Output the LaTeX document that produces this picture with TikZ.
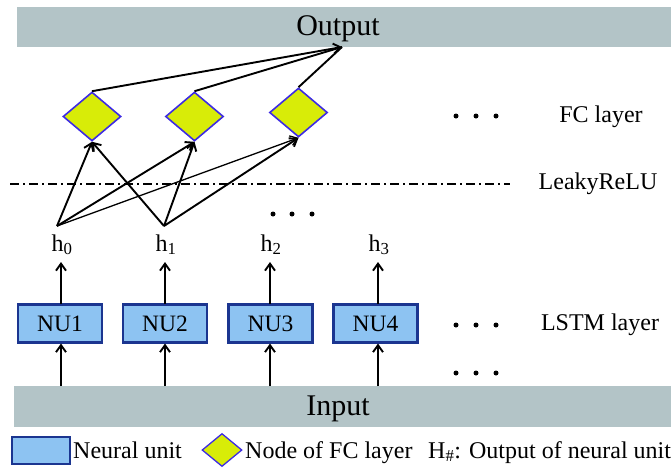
\documentclass[tikz,border=0pt]{standalone}
\usepackage{fontspec}
\setmainfont{Liberation Serif}
\usetikzlibrary{arrows.meta,shapes.geometric}
\definecolor{barc}{HTML}{B3C4C7}
\definecolor{nufill}{HTML}{8DC3F2}
\definecolor{nudraw}{HTML}{1B3590}
\definecolor{dfill}{HTML}{D8EC08}
\definecolor{ddraw}{HTML}{3D2BE3}
\begin{document}
\begin{tikzpicture}[x=1pt,y=-1pt,
  bar/.style={fill=barc, draw=none, inner sep=0, anchor=north west},
  nubox/.style={draw=nudraw, fill=nufill, line width=2.2pt, minimum width=84pt, minimum height=38pt, inner sep=0, font=\fontsize{23.5}{23.5}\selectfont},
  fcnode/.style={shape=diamond, draw=ddraw, fill=dfill, line width=1.6pt, minimum width=58pt, minimum height=49pt, inner sep=0},
  arr/.style={-{Straight Barb[length=7pt,width=10pt]}, line width=1.9pt},
  thinarr/.style={-{Straight Barb[length=7pt,width=10pt]}, line width=1.3pt},
  lbl/.style={font=\fontsize{24}{24}\selectfont, inner sep=0},
  big/.style={font=\fontsize{30}{30}\selectfont, inner sep=0}
]
\useasboundingbox (0,0) rectangle (671,467);
% bars
\node[bar, minimum width=654pt, minimum height=40pt] (outbar) at (17,7) {};
\node[big, anchor=base] (outtxt) at (338,35) {Output};
\node[bar, minimum width=657pt, minimum height=41pt] (inbar) at (14,386) {};
\node[big, anchor=base] (intxt) at (338,415) {Input};
\coordinate (out) at (342,47);
% FC nodes
\node[fcnode] (d1) at (92,116.5) {};
\node[fcnode] (d2) at (194.5,116.5) {};
\node[fcnode] (d3) at (298.5,112.5) {};
% NU boxes
\node[nubox] (n1) at (60,323.5) {NU1};
\node[nubox] (n2) at (165,323.5) {NU2};
\node[nubox] (n3) at (270.5,323.5) {NU3};
\node[nubox] (n4) at (375.5,323.5) {NU4};
% h labels
\node[lbl, anchor=base] (h0) at (62,251) {h\textsubscript{0}};
\node[lbl, anchor=base] (h1) at (166,251) {h\textsubscript{1}};
\node[lbl, anchor=base] (h2) at (271,251) {h\textsubscript{2}};
\node[lbl, anchor=base] (h3) at (379,251) {h\textsubscript{3}};
\coordinate (h0t) at (57,226);
\coordinate (h1t) at (164,226);
% arrows input -> NU -> h
\foreach \x in {61,165,270,378}{
  \draw[arr] (\x,386) -- (\x,343.5);
  \draw[arr] (\x,303.5) -- (\x,262);
}
% h -> FC
\draw[arr] (h0t) -- (d1.south);
\draw[arr] (h0t) -- (d2.south);
\draw[thinarr] (h0t) -- (d3.south);
\draw[arr] (h1t) -- (d1.south);
\draw[arr] (h1t) -- (d2.south);
\draw[arr] (h1t) -- (d3.south);
% FC -> output
\draw[line width=1.9pt] (d2.north) -- (out);
\draw[line width=1.9pt] (d3.north) -- (out);
\draw[arr] (d1.north) -- (out);
% LeakyReLU line
\draw[line width=1.4pt, dash pattern=on 9pt off 4pt on 2pt off 4pt] (10,184) -- (510,184);
% dots
\foreach \y in {116,325,373}{
  \foreach \x in {456,476,496} \fill (\x,\y) circle (2.5pt);
}
\foreach \x in {273,292,312} \fill (\x,214) circle (2.5pt);
% right labels
\node[lbl] (fcl) at (601,117) {FC layer};
\node[lbl] (lrl) at (598,184) {LeakyReLU};
\node[lbl] (lsl) at (600,325) {LSTM layer};
% legend
\node[draw=nudraw, fill=nufill, line width=2.2pt, minimum width=58pt, minimum height=27pt, inner sep=0] (legnu) at (41,450.5) {};
\node[lbl, anchor=base west] (legnut) at (73,458) {Neural unit};
\node[fcnode, line width=1.3pt, minimum width=40pt, minimum height=33pt] (legd) at (222,450) {};
\node[lbl, anchor=base west] (legdt) at (245,458) {Node of FC layer};
\node[lbl, anchor=base west] (leght) at (428,458) {H\textsubscript{\#}: Output of neural unit};
\end{tikzpicture}
\end{document}
